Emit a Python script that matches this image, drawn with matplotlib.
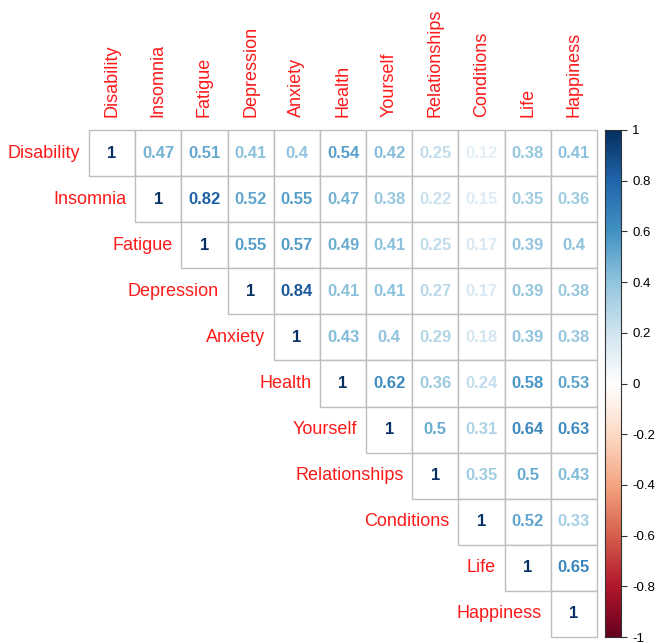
import numpy as np
import matplotlib
matplotlib.use("Agg")
import matplotlib.pyplot as plt
from matplotlib.colors import LinearSegmentedColormap, Normalize
from matplotlib.patches import Rectangle

variables = ["Disability", "Insomnia", "Fatigue", "Depression", "Anxiety", "Health",
             "Yourself", "Relationships", "Conditions", "Life", "Happiness"]

# Upper-triangle correlations, row by row (starting at the diagonal)
upper_rows = [
    [1, 0.47, 0.51, 0.41, 0.4, 0.54, 0.42, 0.25, 0.12, 0.38, 0.41],
    [1, 0.82, 0.52, 0.55, 0.47, 0.38, 0.22, 0.15, 0.35, 0.36],
    [1, 0.55, 0.57, 0.49, 0.41, 0.25, 0.17, 0.39, 0.4],
    [1, 0.84, 0.41, 0.41, 0.27, 0.17, 0.39, 0.38],
    [1, 0.43, 0.4, 0.29, 0.18, 0.39, 0.38],
    [1, 0.62, 0.36, 0.24, 0.58, 0.53],
    [1, 0.5, 0.31, 0.64, 0.63],
    [1, 0.35, 0.5, 0.43],
    [1, 0.52, 0.33],
    [1, 0.65],
    [1],
]

colorbar_ticks = [-1, -0.8, -0.6, -0.4, -0.2, 0, 0.2, 0.4, 0.6, 0.8, 1]

rdbu = ["#67001F", "#B2182B", "#D6604D", "#F4A582", "#FDDBC7", "#FFFFFF",
        "#D1E5F0", "#92C5DE", "#4393C3", "#2166AC", "#053061"]
cmap = LinearSegmentedColormap.from_list("corr_rdbu", rdbu, N=200)
norm = Normalize(-1, 1)

W, H = 661, 643
fig = plt.figure(figsize=(W / 100, H / 100), dpi=100)

left, right, top, bottom = 89, 597, 130, 637
ax = fig.add_axes([left / W, 1 - bottom / H, (right - left) / W, (bottom - top) / H])
n = len(variables)
ax.set_xlim(0, n)
ax.set_ylim(n, 0)
ax.axis("off")

grid_col = "#BEBEBE"
num_font = "Liberation Sans"
for i, row in enumerate(upper_rows):
    for k, val in enumerate(row):
        j = i + k
        ax.add_patch(Rectangle((j, i), 1, 1, facecolor="white", edgecolor=grid_col,
                               linewidth=1.0, clip_on=False))
        txt = f"{val:g}"
        ax.text(j + 0.5, i + 0.5, txt, ha="center", va="center", fontsize=12,
                fontweight="bold", family=num_font, color=cmap(norm(val)))

label_red = "#FF1A1A"
for i, name in enumerate(variables):
    # row labels sit just left of the diagonal cell
    ax.text(i - 0.19, i + 0.5, name, ha="right", va="center", fontsize=13,
            family=num_font, color=label_red)
    # column labels stand above the top row
    ax.text(i + 0.5, -0.28, name, ha="center", va="bottom", rotation=90,
            fontsize=13, family=num_font, color=label_red)

# colour legend
cax = fig.add_axes([605 / W, 1 - bottom / H, 16 / W, (bottom - top) / H])
grad = np.linspace(-1, 1, 400).reshape(-1, 1)
cax.imshow(grad, aspect="auto", cmap=cmap, norm=norm, origin="lower",
           extent=[0, 1, -1, 1])
cax.set_xlim(0, 1)
cax.set_ylim(-1, 1)
cax.set_xticks([])
cax.yaxis.tick_right()
cax.set_yticks(colorbar_ticks)
cax.set_yticklabels([f"{t:g}" for t in colorbar_ticks], family=num_font, fontsize=9.5)
cax.tick_params(axis="y", length=4, width=0.8, color="#333333", pad=4)
for s in cax.spines.values():
    s.set_linewidth(0.8)
    s.set_color("#333333")

fig.savefig("out.png", dpi=100)
